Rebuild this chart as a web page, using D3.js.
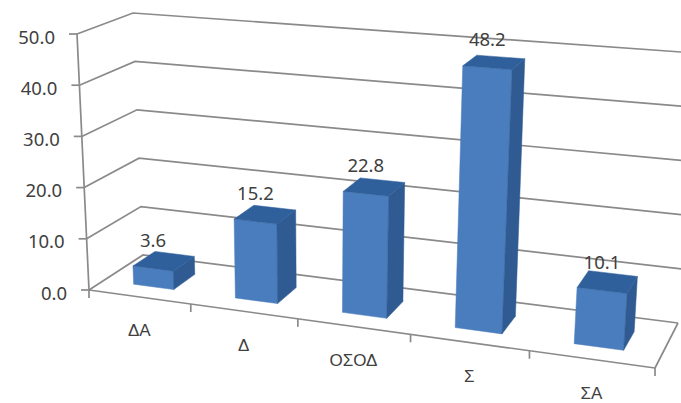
<!DOCTYPE html>
<html>
<head>
<meta charset="utf-8">
<script src="https://cdn.jsdelivr.net/npm/d3@7"></script>
<style>
  html, body { margin: 0; padding: 0; background: #fff; }
  svg { display: block; }
  text { font-family: "Noto Sans", sans-serif; fill: #404040; }
  text.category { font-family: "Liberation Sans", sans-serif; }
</style>
</head>
<body>
<div id="chart"></div>
<script>
const categories = ["ΔΑ", "Δ", "ΟΣΟΔ", "Σ", "ΣΑ"];
const values = [3.6, 15.2, 22.8, 48.2, 10.1];
const valueTicks = [0, 10, 20, 30, 40, 50];

const width = 681, height = 403;

// Screen positions of the eight corners of the chart box: [front/back][bottom/top][left/right]
const box = {
  fbl: [89, 290],  fbr: [655, 368],
  bbl: [143, 255], bbr: [678, 323],
  ftl: [77, 34],   ftr: [675, 80],
  btl: [133, 13],  btr: [695, 53]
};
const foreshorten = 0.877;   // perspective compression along the category axis
const barDepth = [0.28, 0.70];

const xBand = d3.scaleBand().domain(categories).range([0, 1]).paddingInner(0.6).paddingOuter(0.3);
const yValue = d3.scaleLinear().domain([0, 50]).range([0, 1]);

// Maps box coordinates (across, up, deep), each 0..1, to a screen point.
function project(u, v, w) {
  const s = u * foreshorten / (1 + (foreshorten - 1) * u);
  const mix = (a, b, t) => [a[0] + (b[0] - a[0]) * t, a[1] + (b[1] - a[1]) * t];
  const front = mix(mix(box.fbl, box.fbr, s), mix(box.ftl, box.ftr, s), v);
  const back = mix(mix(box.bbl, box.bbr, s), mix(box.btl, box.btr, s), v);
  return mix(front, back, w);
}

const svg = d3.select("#chart").append("svg").attr("width", width).attr("height", height);
const path = d3.line();
const gridColor = "#8a8a8a";
const gridWidth = 1.7;

// Walls: each value gets a line along the left wall and across the back wall
const grid = svg.append("g").attr("fill", "none").attr("stroke", gridColor).attr("stroke-width", gridWidth);
grid.selectAll("path.wall").data(valueTicks).join("path").attr("class", "wall")
  .attr("d", d => path([
    project(0, yValue(d), 0),
    project(0, yValue(d), 1),
    project(1, yValue(d), 1)
  ]));

// Right edge of the floor
grid.append("path").attr("d", path([project(1, 0, 1), project(1, 0, 0)]));

// Bars: front, side and top faces
const faces = [
  { name: "front", color: "#4a7dbd", pts: (a, b, h, n, f) => [[a, 0, n], [b, 0, n], [b, h, n], [a, h, n]] },
  { name: "side",  color: "#2f5b92", pts: (a, b, h, n, f) => [[b, 0, n], [b, 0, f], [b, h, f], [b, h, n]] },
  { name: "top",   color: "#30609b", pts: (a, b, h, n, f) => [[a, h, n], [b, h, n], [b, h, f], [a, h, f]] }
];
const bars = svg.append("g").selectAll("g").data(categories).join("g");
faces.forEach(face => {
  bars.append("path")
    .attr("class", face.name)
    .attr("fill", face.color)
    .attr("stroke", face.color)
    .attr("stroke-width", 0.5)
    .attr("d", (c, i) => {
      const a = xBand(c), b = a + xBand.bandwidth();
      const corners = face.pts(a, b, yValue(values[i]), barDepth[0], barDepth[1]);
      return path(corners.map(p => project(p[0], p[1], p[2]))) + "Z";
    });
});

// Vertical value axis with outward ticks
const axis = svg.append("g").attr("fill", "none").attr("stroke", gridColor).attr("stroke-width", gridWidth);
axis.append("path").attr("d", path([project(0, 0, 0), project(0, 1, 0)]));
axis.selectAll("path.vtick").data(valueTicks).join("path").attr("class", "vtick")
  .attr("d", d => {
    const p = project(0, yValue(d), 0);
    return path([p, [p[0] - 8, p[1]]]);
  });

// Front category axis with downward ticks at the band boundaries
axis.append("path").attr("d", path([project(0, 0, 0), project(1, 0, 0)]));
axis.selectAll("path.ctick").data(d3.range(categories.length + 1)).join("path").attr("class", "ctick")
  .attr("d", i => {
    const p = project(xBand.step() * i, 0, 0);
    return path([p, [p[0], p[1] + 8]]);
  });

// Value axis labels
svg.append("g").selectAll("text").data(valueTicks).join("text")
  .attr("font-size", 18.5)
  .attr("text-anchor", "end")
  .attr("dominant-baseline", "central")
  .attr("x", d => project(0, yValue(d), 0)[0] - 22)
  .attr("y", d => project(0, yValue(d), 0)[1] + 2)
  .text(d => d3.format(".1f")(d));

// Category labels
svg.append("g").selectAll("text").data(categories).join("text")
  .attr("class", "category")
  .attr("font-size", 17)
  .attr("text-anchor", "middle")
  .attr("dominant-baseline", "central")
  .attr("x", c => project(xBand(c) + xBand.bandwidth() / 2, 0, 0)[0])
  .attr("y", c => project(xBand(c) + xBand.bandwidth() / 2, 0, 0)[1] + 34)
  .text(c => c);

// Value labels above each bar's front face
svg.append("g").selectAll("text").data(categories).join("text")
  .attr("font-size", 18.5)
  .attr("text-anchor", "middle")
  .attr("dominant-baseline", "central")
  .attr("x", (c, i) => project(xBand(c) + xBand.bandwidth() / 2, yValue(values[i]), barDepth[0])[0])
  .attr("y", (c, i) => project(xBand(c) + xBand.bandwidth() / 2, yValue(values[i]), barDepth[0])[1] - 29)
  .text((c, i) => d3.format(".1f")(values[i]));
</script>
</body>
</html>
